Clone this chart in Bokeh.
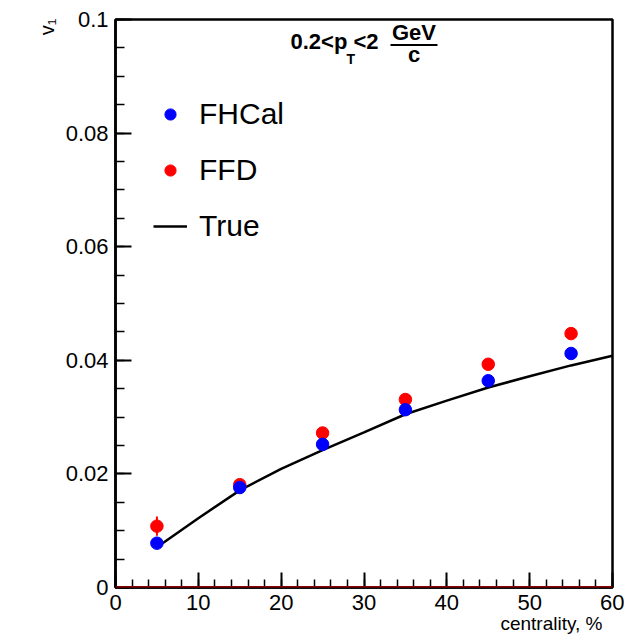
import math
from bokeh.plotting import figure
from bokeh.models import (Range1d, SingleIntervalTicker, CustomJSTickFormatter, Label, Span,
                          BoxAnnotation, Legend, LegendItem, ColumnDataSource, Title)
from bokeh.embed import file_html
from bokeh.resources import INLINE

# ---------------- data ----------------
centrality = [5, 15, 25, 35, 45, 55]
v1_fhcal = [0.0078, 0.0176, 0.0252, 0.0313, 0.0364, 0.0412]
v1_fhcal_err = [0.0004, 0.0003, 0.0003, 0.0003, 0.0003, 0.0003]
v1_ffd = [0.0108, 0.0181, 0.0272, 0.0331, 0.0393, 0.0447]
v1_ffd_err = [0.0017, 0.0006, 0.0005, 0.0005, 0.0005, 0.0005]
true_centrality = [5, 10, 15, 20, 25, 30, 35, 40, 45, 50, 55, 60]
v1_true = [0.0071, 0.0122, 0.0171, 0.0209, 0.0242, 0.0273, 0.0305, 0.0329, 0.0352, 0.0372, 0.0391, 0.0408]
legend_labels = ["FHCal", "FFD", "True"]
x_label = "centrality, %"
y_label = "v\u2081"

FONT = "Liberation Sans"

# frame in picture pixels (for placing texts)
FL, FR, FT, FB = 115, 612, 19, 587
X0, X1, Y0, Y1 = 0, 60, 0, 0.1
W, H = 624, 638


def dx(xp):
    return X0 + (xp - FL) * (X1 - X0) / (FR - FL)


def dy(yp):
    return Y0 + (FB - yp) * (Y1 - Y0) / (FB - FT)


p = figure(width=W, height=H, x_range=Range1d(X0, X1), y_range=Range1d(Y0, Y1),
           output_backend="svg", toolbar_location=None,
           min_border_left=FL, min_border_right=W - FR, min_border_top=FT, min_border_bottom=H - FB)
p.xgrid.visible = False
p.ygrid.visible = False
p.outline_line_color = "black"
p.outline_line_width = 2.5
p.background_fill_color = "white"
p.border_fill_color = "white"

p.xaxis.ticker = SingleIntervalTicker(interval=10, num_minor_ticks=5)
p.yaxis.ticker = SingleIntervalTicker(interval=0.02, num_minor_ticks=4)
fmt = "return String(Number(tick.toFixed(4)));"
p.xaxis.formatter = CustomJSTickFormatter(code=fmt)
p.yaxis.formatter = CustomJSTickFormatter(code=fmt)
for ax in (p.xaxis, p.yaxis):
    ax.axis_line_color = "black"
    ax.axis_line_width = 2.5
    ax.major_tick_line_color = "black"
    ax.minor_tick_line_color = "black"
    ax.major_tick_line_width = 2
    ax.minor_tick_line_width = 1.5
    ax.major_tick_out = 0
    ax.minor_tick_out = 0
    ax.major_label_text_font = FONT
    ax.major_label_text_font_size = "22px"
    ax.major_label_text_color = "black"
p.xaxis.major_label_standoff = 7
p.yaxis.major_label_standoff = 7
p.xaxis.major_tick_in = 15
p.xaxis.minor_tick_in = 8
p.yaxis.major_tick_in = 16
p.yaxis.minor_tick_in = 9

# axis titles
p.add_layout(Title(text=x_label, align="right", offset=10, standoff=-3, text_font=FONT,
                   text_font_size="19px", text_font_style="normal", text_color="black"), "below")
p.add_layout(Title(text=y_label, align="right", offset=-1, standoff=9, text_font=FONT,
                   text_font_size="20px", text_font_style="normal", text_color="black"), "left")

# zero line
p.add_layout(Span(location=0, dimension="width", line_color="#a80000", line_width=2.5))

# true curve
r_true = p.line(true_centrality, v1_true, line_color="black", line_width=2.5)

# error bars and points
src_fh = ColumnDataSource(dict(x=centrality, y=v1_fhcal,
                               lo=[v - e for v, e in zip(v1_fhcal, v1_fhcal_err)],
                               hi=[v + e for v, e in zip(v1_fhcal, v1_fhcal_err)]))
src_ffd = ColumnDataSource(dict(x=centrality, y=v1_ffd,
                                lo=[v - e for v, e in zip(v1_ffd, v1_ffd_err)],
                                hi=[v + e for v, e in zip(v1_ffd, v1_ffd_err)]))
p.segment(x0="x", y0="lo", x1="x", y1="hi", source=src_ffd, line_color="red", line_width=2)
p.segment(x0="x", y0="lo", x1="x", y1="hi", source=src_fh, line_color="blue", line_width=2)
r_ffd = p.scatter("x", "y", source=src_ffd, size=12.5, color="red")
r_fh = p.scatter("x", "y", source=src_fh, size=12.5, color="blue")

legend = Legend(items=[LegendItem(label=legend_labels[0], renderers=[r_fh]),
                       LegendItem(label=legend_labels[1], renderers=[r_ffd]),
                       LegendItem(label=legend_labels[2], renderers=[r_true])],
                location=(38, 344), border_line_color=None, background_fill_alpha=0,
                padding=0, margin=0, spacing=22, glyph_width=34, glyph_height=28,
                label_standoff=12, label_text_font=FONT, label_text_font_size="30px",
                label_text_color="black")
p.add_layout(legend)


def lab(text, xp, yp, size, bold=False, align="left"):
    # empirical shift: rendered alphabetic baseline sits lower than the anchor
    yp = yp - 0.36 * size
    p.add_layout(Label(x=dx(xp), y=dy(yp), text=text, text_font=FONT,
                       text_font_size=f"{size}px", text_font_style="bold" if bold else "normal",
                       text_align=align, text_baseline="alphabetic", text_color="black"))


# title: 0.2 < p_T < 2 GeV/c
lab("0.2<p", 290, 49, 22, bold=True)
lab("T", 346, 64, 14, bold=True)
lab("<2", 353, 49, 22, bold=True)
lab("GeV", 413.5, 40, 22, bold=True, align="center")
p.add_layout(BoxAnnotation(left=dx(390), right=dx(437), top=dy(43.5), bottom=dy(45.5),
                           fill_color="black", fill_alpha=1, line_color=None))
lab("c", 413.5, 62, 22, bold=True, align="center")

open("out.html", "w").write(file_html(p, INLINE))
